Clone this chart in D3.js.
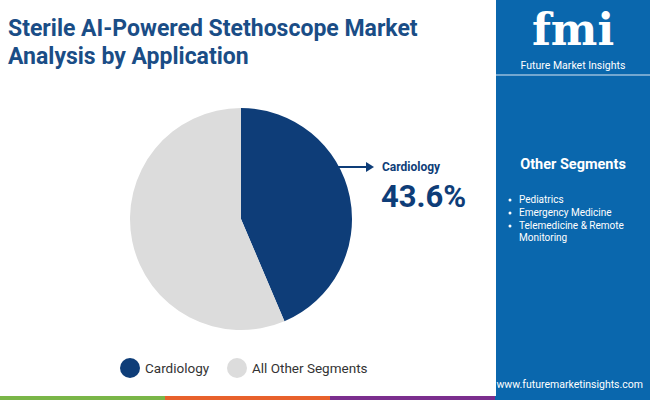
<!DOCTYPE html><html><head><script src="https://cdn.jsdelivr.net/npm/d3@7"></script>
<style>body{margin:0}svg{font-family:Roboto,sans-serif}</style></head><body><svg width="650" height="400"></svg>
<script>
const categories=["Cardiology","All Other Segments"];
const values=[43.6,56.4];
const colors=["#0e3d78","#dcdcdc"];
const otherSegments=["Pediatrics","Emergency Medicine","Telemedicine & Remote","Monitoring"];
const svg=d3.select("svg");
svg.append("rect").attr("width",650).attr("height",400).attr("fill","#fff");
svg.append("text").attr("x",8).attr("y",36).attr("font-size",23).attr("font-weight",700).attr("fill","#1a4d86").text("Sterile AI-Powered Stethoscope Market");
svg.append("text").attr("x",8).attr("y",64).attr("font-size",23).attr("font-weight",700).attr("fill","#1a4d86").text("Analysis by Application");
// right panel
svg.append("rect").attr("x",496).attr("y",0).attr("width",154).attr("height",400).attr("fill","#0a67ad");
svg.append("line").attr("x1",496).attr("x2",650).attr("y1",75).attr("y2",75).attr("stroke","#dce8f3").attr("stroke-width",1);
svg.append("text").attr("x",573).attr("y",45).attr("text-anchor","middle").attr("font-size",44).attr("font-weight",900).attr("fill","#fff").attr("font-family","DejaVu Serif").text("fmi");
svg.append("text").attr("x",573).attr("y",69).attr("text-anchor","middle").attr("font-size",10.5).attr("fill","#fff").text("Future Market Insights");
svg.append("text").attr("x",573).attr("y",169).attr("text-anchor","middle").attr("font-size",14.5).attr("font-weight",700).attr("fill","#fff").text("Other Segments");
const ys=[203,216,229,241];
otherSegments.forEach((s,i)=>{
 if(i<3)svg.append("circle").attr("cx",510).attr("cy",ys[i]-3).attr("r",1.5).attr("fill","#fff");
 svg.append("text").attr("x",519).attr("y",ys[i]).attr("font-size",10).attr("fill","#fff").text(s);
});
svg.append("text").attr("x",643).attr("y",388).attr("text-anchor","end").attr("font-size",10.5).attr("fill","#fff").text("www.futuremarketinsights.com");
const stripe=["#7ab648","#e8612c","#7b2e8e","#0a67ad"];
stripe.forEach((c,i)=>svg.append("rect").attr("x",i*165).attr("y",396).attr("width",i==3?155:165).attr("height",4).attr("fill",c));
// pie
const pie=d3.pie().sort(null)(values);
const arc=d3.arc().innerRadius(0).outerRadius(111);
const g=svg.append("g").attr("transform","translate(241,219)");
g.selectAll("path").data(pie).join("path").attr("d",arc).attr("fill",(d,i)=>colors[i]);
// annotation
svg.append("line").attr("x1",336).attr("x2",366).attr("y1",167).attr("y2",167).attr("stroke","#0e3d78").attr("stroke-width",2);
svg.append("path").attr("d","M366,162 L374,167 L366,172Z").attr("fill","#0e3d78");
svg.append("text").attr("x",382).attr("y",171).attr("font-size",12).attr("font-weight",700).attr("fill","#0e3d78").text(categories[0]);
svg.append("text").attr("x",381).attr("y",207).attr("font-size",31).attr("font-weight",700).attr("fill","#0e3d78").text(values[0]+"%");
// legend
const lx=[130,237];
categories.forEach((c,i)=>{
 svg.append("circle").attr("cx",lx[i]).attr("cy",368).attr("r",10).attr("fill",colors[i]);
 svg.append("text").attr("x",lx[i]+15).attr("y",373).attr("font-size",13.5).attr("fill","#333").text(c);
});
</script></body></html>
